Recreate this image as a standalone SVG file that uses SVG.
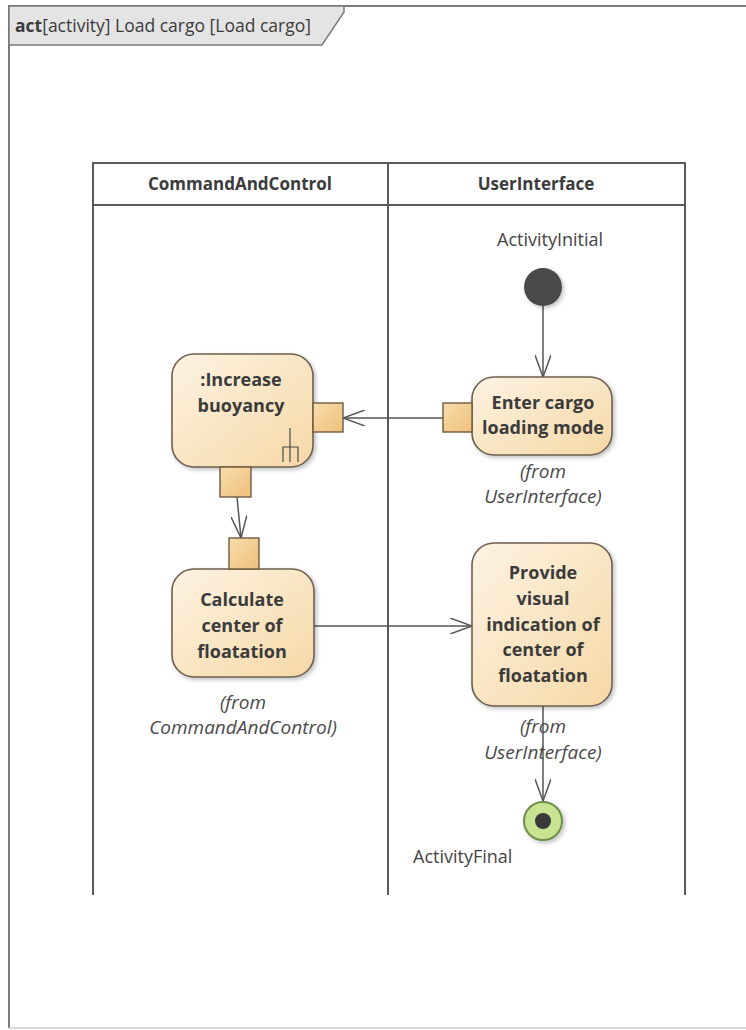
<svg xmlns="http://www.w3.org/2000/svg" width="746" height="1030" viewBox="0 0 746 1030">
  <defs>
    <linearGradient id="actFill" x1="0" y1="0" x2="1" y2="1">
      <stop offset="0" stop-color="#fdf3e2"/>
      <stop offset="1" stop-color="#f6d8a6"/>
    </linearGradient>
    <linearGradient id="pinFill" x1="0" y1="0" x2="1" y2="1">
      <stop offset="0" stop-color="#f8dcac"/>
      <stop offset="1" stop-color="#efc07c"/>
    </linearGradient>
    <filter id="shadow" x="-20%" y="-20%" width="140%" height="140%">
      <feGaussianBlur in="SourceAlpha" stdDeviation="2"/>
      <feOffset dx="2" dy="2"/>
      <feComponentTransfer><feFuncA type="linear" slope="0.25"/></feComponentTransfer>
      <feMerge><feMergeNode/><feMergeNode in="SourceGraphic"/></feMerge>
    </filter>
    <marker id="open" markerWidth="24" markerHeight="16" refX="22" refY="8" orient="auto" markerUnits="userSpaceOnUse">
      <path d="M0,0 L22,8 L0,16" fill="none" stroke="#555" stroke-width="1.5"/>
    </marker>
  </defs>
  <style>
    text { font-family: "Open Sans", "Liberation Sans", sans-serif; fill: #3b3b3b; }
    .title { font-size: 17.5px; }
    .lane { font-size: 17px; font-weight: bold; text-anchor: middle; }
    .act { fill: url(#actFill); stroke: #6e6050; stroke-width: 1.6; }
    .pin { fill: url(#pinFill); stroke: #6e5a3e; stroke-width: 1.4; }
    .name { font-size: 18px; font-weight: bold; text-anchor: middle; }
    .from { font-size: 19px; font-style: italic; text-anchor: middle; fill: #4a4a4a; }
    .lbl { font-size: 18px; fill: #444; }
    .flow { fill: none; stroke: #555; stroke-width: 1.5; }
    .laneline { stroke: #5a5a5a; stroke-width: 2; fill: none; }
  </style>

  <rect width="746" height="1030" fill="#ffffff"/>

  <!-- diagram frame with name tab -->
  <g id="frame">
    <path d="M9,1028 L9,6 L746,6" fill="none" stroke="#7a7a7a" stroke-width="2"/>
    <line x1="9" y1="1028" x2="746" y2="1028" stroke="#d8d8d8" stroke-width="2"/>
    <path d="M9,6 L344,6 L344,12 L322,45 L9,45 Z" fill="#e4e4e4" stroke="#7a7a7a" stroke-width="1.5"/>
    <text class="title" x="15" y="32"><tspan font-weight="bold">act</tspan>[activity] Load cargo [Load cargo]</text>
  </g>

  <!-- partitions -->
  <g id="partitions">
    <path class="laneline" d="M93,895 L93,163 L685,163 L685,895"/>
    <line class="laneline" x1="388" y1="163" x2="388" y2="895"/>
    <line class="laneline" x1="93" y1="205" x2="685" y2="205"/>
    <text class="lane" x="240" y="190">CommandAndControl</text>
    <text class="lane" x="536" y="190">UserInterface</text>
  </g>

  <!-- connectors -->
  <g id="connectors">
    <line class="flow" x1="543" y1="306" x2="543" y2="377" marker-end="url(#open)"/>
    <line class="flow" x1="443" y1="418" x2="343" y2="418" marker-end="url(#open)"/>
    <line class="flow" x1="237" y1="497" x2="241" y2="538" marker-end="url(#open)"/>
    <line class="flow" x1="313" y1="626" x2="472" y2="626" marker-end="url(#open)"/>
    <line class="flow" x1="543" y1="706" x2="543" y2="801" marker-end="url(#open)"/>
  </g>

  <!-- initial node -->
  <g id="ActivityInitial">
    <text class="lbl" x="497" y="246">ActivityInitial</text>
    <circle cx="543" cy="287" r="19" fill="#4a4a4a" filter="url(#shadow)"/>
  </g>

  <!-- Enter cargo loading mode -->
  <g id="EnterCargoLoadingMode">
    <rect class="act" x="472" y="377" width="140" height="78" rx="22" filter="url(#shadow)"/>
    <rect class="pin" x="443" y="403" width="29" height="29"/>
    <text class="name" x="543" y="409">Enter cargo</text>
    <text class="name" x="543" y="434">loading mode</text>
    <text class="from" x="543" y="478">(from</text>
    <text class="from" x="543" y="503">UserInterface)</text>
  </g>

  <!-- Increase buoyancy (call behavior action) -->
  <g id="IncreaseBuoyancy">
    <rect class="act" x="172" y="354" width="141" height="113" rx="22" filter="url(#shadow)"/>
    <rect class="pin" x="313" y="403" width="30" height="29"/>
    <rect class="pin" x="220" y="467" width="31" height="30"/>
    <text class="name" x="241" y="386">:Increase</text>
    <text class="name" x="241" y="412">buoyancy</text>
    <path d="M290,428 L290,447 M283,462 L283,447 L298,447 L298,462 M290,447 L290,462" fill="none" stroke="#4a4a4a" stroke-width="1.2"/>
  </g>

  <!-- Calculate center of floatation -->
  <g id="CalculateCenterOfFloatation">
    <rect class="act" x="172" y="569" width="142" height="108" rx="22" filter="url(#shadow)"/>
    <rect class="pin" x="229" y="538" width="30" height="31"/>
    <text class="name" x="242" y="606">Calculate</text>
    <text class="name" x="242" y="632">center of</text>
    <text class="name" x="242" y="658">floatation</text>
    <text class="from" x="243" y="709">(from</text>
    <text class="from" x="243" y="734">CommandAndControl)</text>
  </g>

  <!-- Provide visual indication -->
  <g id="ProvideVisualIndication">
    <rect class="act" x="472" y="543" width="140" height="163" rx="22" filter="url(#shadow)"/>
    <text class="name" x="543" y="579">Provide</text>
    <text class="name" x="543" y="605">visual</text>
    <text class="name" x="543" y="631">indication of</text>
    <text class="name" x="543" y="656">center of</text>
    <text class="name" x="543" y="682">floatation</text>
    <text class="from" x="543" y="733">(from</text>
    <text class="from" x="543" y="759">UserInterface)</text>
  </g>

  <!-- final node -->
  <g id="ActivityFinal">
    <circle cx="543" cy="821" r="19" fill="#c8e391" stroke="#6f8f4a" stroke-width="2" filter="url(#shadow)"/>
    <circle cx="543" cy="821" r="8" fill="#3a3a3a"/>
    <text class="lbl" x="413" y="863">ActivityFinal</text>
  </g>
</svg>
